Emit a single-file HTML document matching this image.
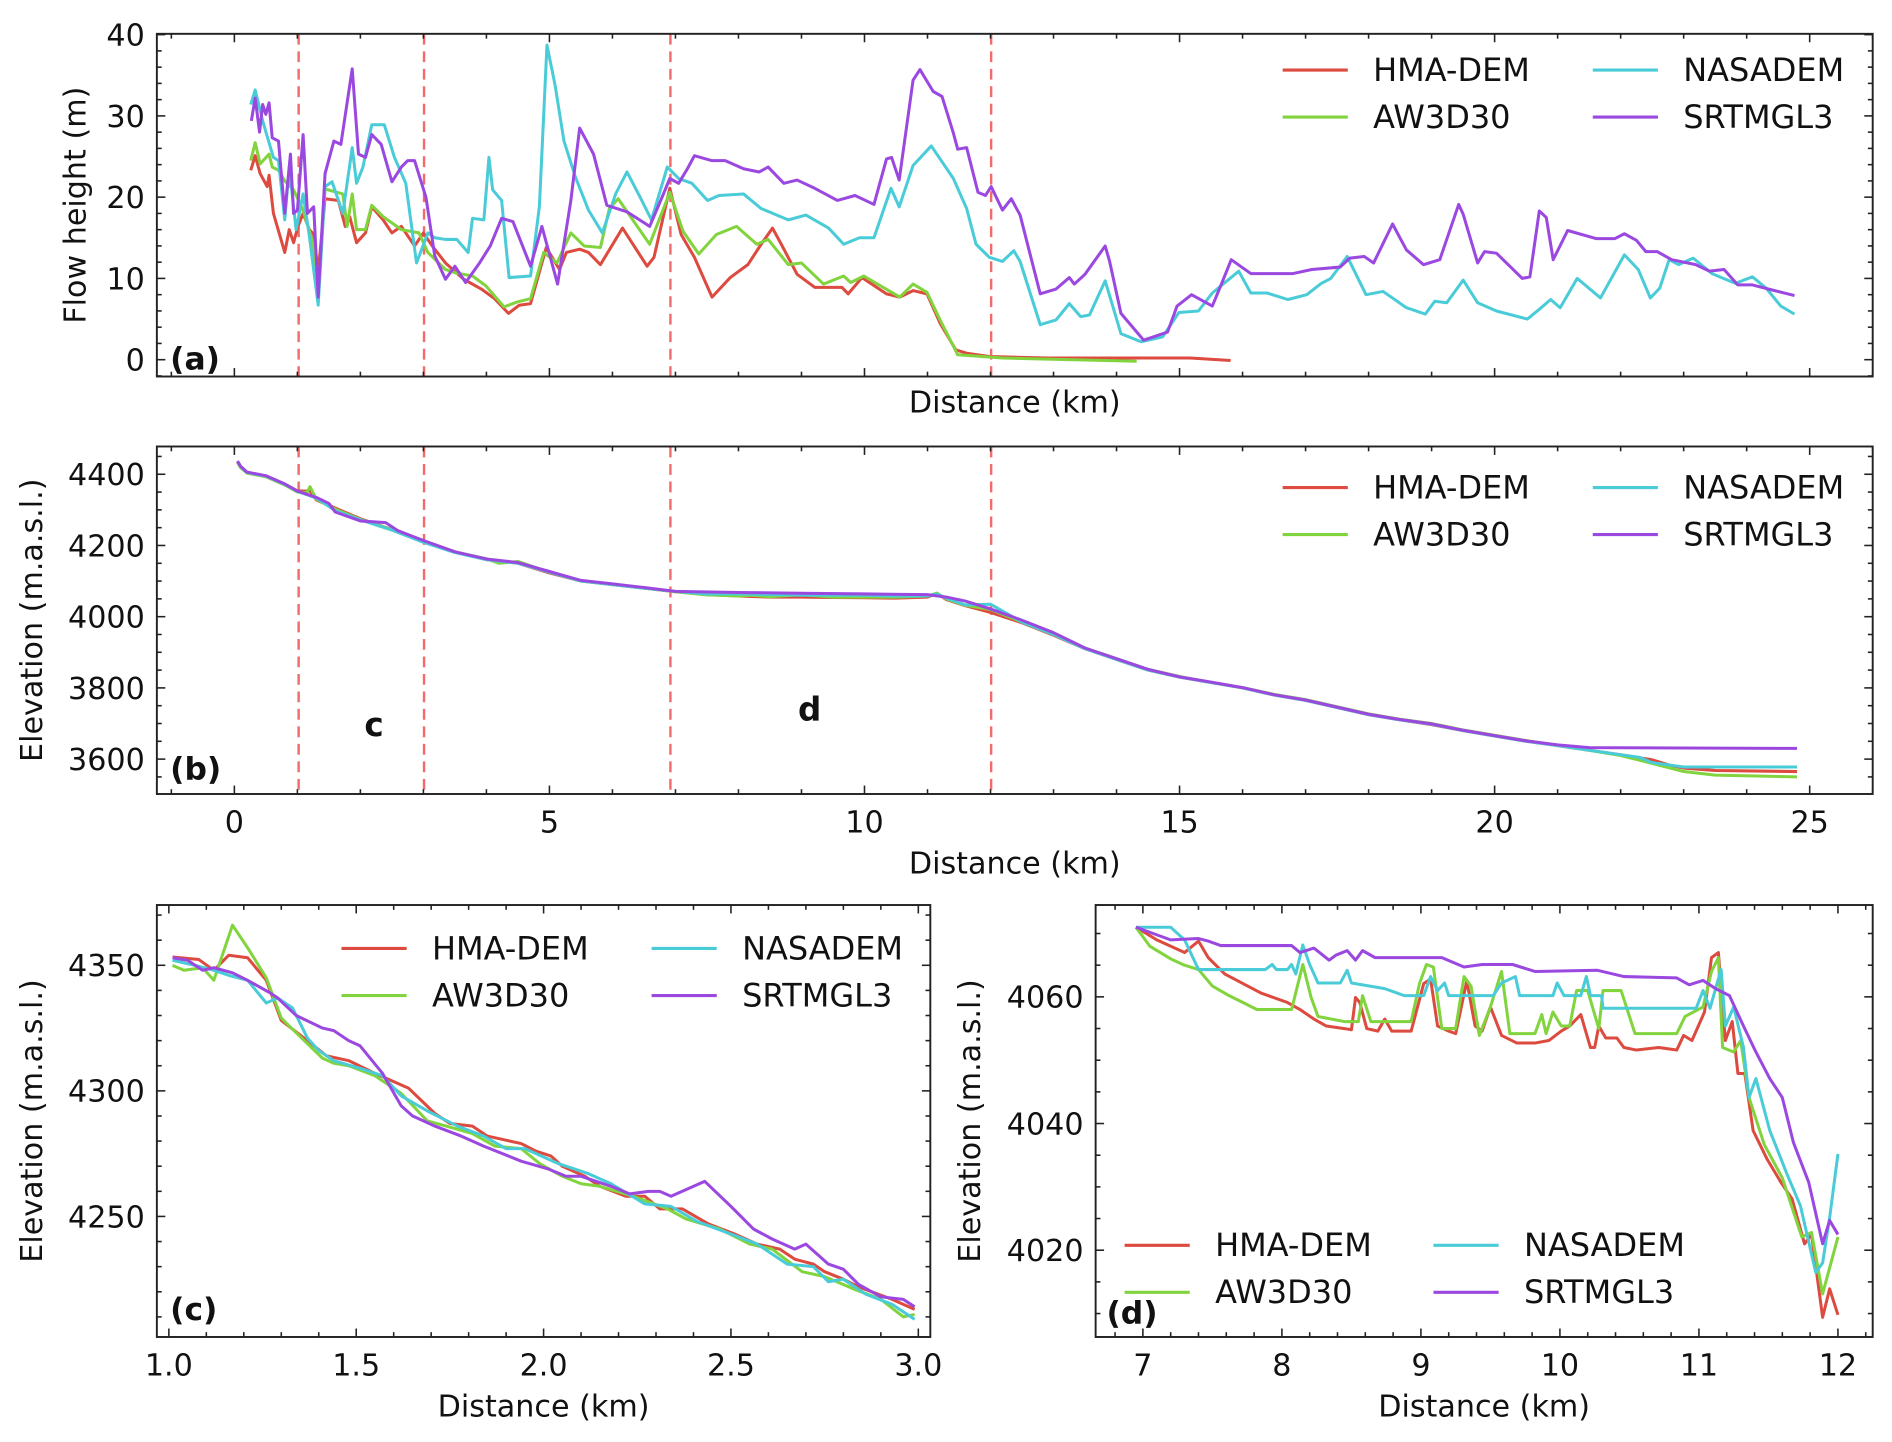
<!DOCTYPE html>
<html><head><meta charset="utf-8"><style>
html,body{margin:0;padding:0;background:#fff}
svg{display:block}
text{font-family:"DejaVu Sans","Liberation Sans",sans-serif;fill:#111}
</style></head><body>
<svg id="fig" width="1892" height="1442" viewBox="0 0 1568 1195" xmlns="http://www.w3.org/2000/svg"></svg>
<script>
// ===== Panel (a) flow height data [km, m] =====
const aHMA=[[0.26,23.3],[0.33,25.1],[0.41,22.9],[0.52,21.3],[0.55,22.7],[0.62,18],[0.8,13.2],[0.87,16],[0.94,14.4],[1.01,16.4],[1.09,18],[1.19,16],[1.26,15.4],[1.33,10.7],[1.44,19.8],[1.65,19.6],[1.76,16.4],[1.83,17.6],[1.94,14.4],[2.08,15.6],[2.18,18.8],[2.36,17.2],[2.5,15.6],[2.65,16.4],[2.86,14],[3.0,15.6],[3.14,14],[3.35,11.9],[3.64,9.9],[3.92,8.7],[4.13,7.5],[4.35,5.7],[4.52,6.7],[4.7,6.9],[4.95,13.8],[5.16,11.1],[5.27,13.2],[5.48,13.6],[5.62,13.2],[5.81,11.7],[6.16,16.2],[6.55,11.5],[6.66,12.6],[6.91,21.1],[7.09,15.4],[7.3,12.6],[7.58,7.7],[7.87,10.1],[8.15,11.7],[8.36,14.2],[8.54,16.2],[8.68,14.2],[8.93,10.5],[9.21,8.9],[9.64,8.9],[9.74,8.1],[9.96,10.1],[10.35,8.1],[10.56,7.7],[10.77,8.5],[10.99,8.1],[11.2,4.5],[11.45,1.2],[11.62,0.8],[11.98,0.4],[12.9,0.2],[14.32,0.2],[15.17,0.2],[15.81,-0.1]];
const aAW=[[0.26,24.5],[0.33,26.7],[0.41,24.1],[0.55,25.3],[0.6,23.7],[0.7,23.3],[0.8,22],[0.94,20.9],[1.09,18.4],[1.23,14.8],[1.33,8.3],[1.44,21],[1.72,20.4],[1.79,16.4],[1.87,20.4],[1.94,16],[2.08,16],[2.18,19],[2.36,17.6],[2.65,16],[2.93,15.6],[3.07,13.2],[3.35,11.1],[3.5,10.7],[3.78,10.3],[3.99,9.1],[4.28,6.5],[4.49,7.1],[4.7,7.5],[4.91,13.2],[5.12,11.9],[5.34,15.6],[5.55,14],[5.81,13.8],[5.95,18.6],[6.09,19.8],[6.59,14.2],[6.91,20.6],[7.12,15.8],[7.37,13],[7.65,15.4],[7.97,16.4],[8.29,14.2],[8.47,14.8],[8.79,11.7],[9,11.9],[9.35,9.3],[9.67,10.3],[9.78,9.5],[9.99,10.3],[10.56,7.7],[10.77,9.3],[10.99,8.3],[11.2,4.9],[11.48,0.6],[12.19,0.2],[14.32,-0.2]];
const aNAS=[[0.26,31.4],[0.33,33.2],[0.45,29.4],[0.52,27.5],[0.62,24.9],[0.7,24.5],[0.8,17.2],[0.87,23.7],[0.98,16],[1.09,20.4],[1.19,15.2],[1.33,6.7],[1.44,21.3],[1.55,21.9],[1.72,18],[1.87,26.1],[1.94,21.7],[2.04,23.7],[2.18,28.9],[2.38,28.9],[2.54,24.9],[2.72,21.7],[2.89,11.9],[3.07,15.6],[3.18,15],[3.35,14.8],[3.53,14.8],[3.71,13.2],[3.78,17.4],[3.96,17.2],[4.04,24.9],[4.1,20.9],[4.24,19.6],[4.36,10.1],[4.7,10.3],[4.84,18.8],[4.96,38.7],[5.09,33.8],[5.23,26.9],[5.41,22.5],[5.62,18.4],[5.84,15.6],[6.05,20.4],[6.23,23.1],[6.44,20],[6.62,17.2],[6.87,23.7],[7.05,22.3],[7.26,21.7],[7.51,19.6],[7.69,20.2],[8.08,20.4],[8.36,18.6],[8.79,17.2],[9.07,17.8],[9.43,16.2],[9.67,14.2],[9.92,15],[10.15,15],[10.42,21.1],[10.55,18.8],[10.77,23.9],[11.06,26.3],[11.41,22.3],[11.62,18.6],[11.77,14.2],[11.98,12.6],[12.19,12.1],[12.37,13.4],[12.47,12.1],[12.79,4.3],[13.04,4.9],[13.25,6.9],[13.43,5.3],[13.57,5.5],[13.82,9.7],[14.07,3.2],[14.39,2.2],[14.73,2.8],[14.99,5.8],[15.3,6],[15.52,8.2],[15.94,10.9],[16.13,8.2],[16.39,8.2],[16.72,7.4],[17.02,8],[17.25,9.4],[17.4,10],[17.66,12.7],[17.96,8],[18.23,8.4],[18.6,6.4],[18.9,5.6],[19.05,7.2],[19.24,7],[19.5,9.8],[19.73,7],[20.03,6],[20.52,5],[20.71,6.2],[20.89,7.4],[21.04,6.4],[21.31,10],[21.68,7.6],[22.06,12.9],[22.28,11.1],[22.47,7.6],[22.62,8.8],[22.77,12.3],[22.92,11.7],[23.15,12.5],[23.45,10.6],[23.82,9.4],[24.09,10.2],[24.31,8.8],[24.54,6.6],[24.76,5.6]];
const aSRT=[[0.27,29.4],[0.33,32.2],[0.4,28],[0.45,31.4],[0.5,30.2],[0.55,31.6],[0.6,27.3],[0.7,26.9],[0.8,18],[0.89,25.3],[0.94,18],[1.0,18.4],[1.09,27.7],[1.16,18],[1.26,18.8],[1.33,7.7],[1.44,22.9],[1.58,26.9],[1.69,26.5],[1.87,35.8],[1.97,25.3],[2.08,24.9],[2.18,27.7],[2.33,26.5],[2.5,21.9],[2.65,23.7],[2.75,24.5],[2.86,24.5],[2.96,22],[3.04,20],[3.18,12.8],[3.35,9.9],[3.5,11.5],[3.67,9.5],[3.89,11.9],[4.06,14],[4.24,17.4],[4.42,17],[4.7,11.5],[4.88,16.4],[5.13,9.3],[5.34,19.6],[5.48,28.5],[5.7,25.3],[5.91,19],[6.23,18.2],[6.59,16.4],[6.8,20.2],[6.91,22.3],[7.05,21.7],[7.19,23.5],[7.3,25.1],[7.58,24.5],[7.79,24.5],[8.08,23.5],[8.33,23.1],[8.47,23.7],[8.72,21.7],[8.93,22.1],[9.21,21.1],[9.57,19.6],[9.85,20.2],[10.15,19.1],[10.35,24.7],[10.43,24.9],[10.55,22.1],[10.77,34.4],[10.88,35.7],[11.09,33],[11.23,32.4],[11.41,27.9],[11.48,25.9],[11.62,26.1],[11.8,20.6],[11.92,20.2],[12.01,21.3],[12.19,18.4],[12.33,19.8],[12.47,17.8],[12.79,8.1],[13.04,8.7],[13.25,10.1],[13.33,9.3],[13.5,10.5],[13.82,14],[13.89,12.1],[14.07,5.7],[14.43,2.4],[14.81,3.4],[14.96,6.6],[15.19,8],[15.52,6.6],[15.67,9.4],[15.82,12.3],[16.13,10.6],[16.8,10.6],[17.1,11.1],[17.55,11.4],[17.7,12.5],[17.93,12.7],[18.08,11.9],[18.23,14.3],[18.38,16.7],[18.6,13.5],[18.87,11.7],[19.13,12.3],[19.43,19.1],[19.5,17.9],[19.73,11.9],[19.84,13.3],[20.03,13.1],[20.44,10],[20.56,10.2],[20.71,18.3],[20.82,17.5],[20.93,12.3],[21.16,15.9],[21.61,14.9],[21.91,14.9],[22.06,15.5],[22.25,14.7],[22.4,13.3],[22.58,13.3],[22.81,12.3],[23.19,11.7],[23.41,10.9],[23.64,11.1],[23.86,9.2],[24.09,9.2],[24.39,8.6],[24.76,7.9]];
// ===== Panel (b) elevation profile [km, m a.s.l.] =====
const bHMA=[[0.05,4435],[0.1,4420],[0.2,4405],[0.5,4395],[0.8,4372],[1,4353],[1.2,4353],[1.3,4328],[1.6,4305],[2,4275],[2.5,4245],[3,4213],[3.5,4182],[4,4160],[4.5,4150],[5,4123],[5.5,4100],[6,4090],[6.5,4080],[7,4070],[7.5,4062],[8,4058],[8.5,4055],[9,4055],[9.5,4054],[10,4053],[10.5,4052],[11,4055],[11.15,4066],[11.3,4048],[11.6,4031],[12,4012],[12.5,3983],[13,3948],[13.5,3910],[14,3880],[14.5,3850],[15,3830],[15.5,3815],[16,3800],[16.5,3780],[17,3765],[17.5,3745],[18,3725],[18.5,3710],[19,3697],[19.5,3680],[20,3665],[20.5,3650],[21,3638],[21.5,3625],[22,3612],[22.5,3598],[22.8,3582],[23,3575],[23.5,3568],[24.8,3565]];
const bAW=[[0.05,4433],[0.1,4418],[0.2,4403],[0.5,4393],[0.8,4370],[1,4350],[1.15,4349],[1.2,4365],[1.3,4330],[1.6,4302],[2,4273],[2.5,4245],[3,4211],[3.5,4182],[4,4163],[4.2,4150],[4.5,4155],[5,4125],[5.5,4100],[6,4090],[6.5,4080],[7,4070],[7.5,4061],[8,4058],[8.2,4060],[8.5,4056],[9,4062],[9.5,4055],[10,4055],[10.5,4055],[11,4058],[11.15,4066],[11.3,4050],[11.6,4032],[12,4020],[12.5,3985],[13,3950],[13.5,3912],[14,3882],[14.5,3852],[15,3832],[15.5,3815],[16,3801],[16.5,3782],[17,3767],[17.5,3747],[18,3727],[18.5,3712],[19,3700],[19.5,3682],[20,3667],[20.5,3652],[21,3638],[21.5,3625],[22,3610],[22.5,3588],[23,3565],[23.5,3555],[24.8,3550]];
const bNAS=[[0.05,4436],[0.1,4421],[0.2,4405],[0.5,4395],[0.8,4372],[1,4352],[1.3,4333],[1.6,4298],[2,4272],[2.5,4243],[3,4209],[3.5,4180],[4,4160],[4.5,4150],[5,4125],[5.5,4100],[6,4090],[6.5,4080],[7,4071],[7.5,4064],[8,4064],[8.5,4062],[9,4060],[9.5,4060],[10,4060],[10.5,4058],[11,4058],[11.15,4064],[11.3,4052],[11.6,4033],[12,4035],[12.5,3985],[13,3950],[13.5,3910],[14,3880],[14.5,3850],[15,3830],[15.5,3815],[16,3800],[16.5,3780],[17,3765],[17.5,3745],[18,3725],[18.5,3710],[19,3698],[19.5,3680],[20,3665],[20.5,3650],[21,3638],[21.5,3625],[22,3612],[22.3,3605],[22.5,3590],[23,3578],[24,3578],[24.8,3578]];
const bSRT=[[0.05,4437],[0.1,4422],[0.2,4406],[0.5,4396],[0.8,4373],[1,4353],[1.3,4335],[1.5,4318],[1.6,4294],[2,4269],[2.4,4264],[2.6,4241],[3,4214],[3.5,4182],[4,4162],[4.5,4152],[5,4127],[5.5,4102],[6,4092],[6.5,4082],[7,4071],[8,4068],[9,4066],[10,4064],[11,4062],[11.3,4055],[11.6,4044],[12,4022],[12.5,3990],[13,3955],[13.5,3912],[14,3882],[14.5,3852],[15,3831],[15.5,3816],[16,3801],[16.5,3781],[17,3766],[17.5,3746],[18,3726],[18.5,3711],[19,3699],[19.5,3681],[20,3666],[20.5,3651],[21,3640],[21.5,3632],[24.8,3630]];
// ===== Panel (c) zoom 1-3 km =====
const cHMA=[[1.01,4353.3],[1.08,4352.3],[1.12,4348],[1.16,4354],[1.21,4353],[1.26,4344],[1.3,4328],[1.37,4320],[1.42,4314],[1.48,4312],[1.55,4307],[1.64,4301],[1.71,4291],[1.75,4287],[1.81,4286],[1.85,4282],[1.94,4279],[1.98,4276],[2.02,4274],[2.05,4270],[2.11,4266],[2.15,4262],[2.22,4258],[2.27,4258],[2.31,4253],[2.37,4253],[2.44,4247],[2.51,4243],[2.57,4239],[2.63,4237],[2.67,4233],[2.72,4231],[2.75,4228],[2.8,4225],[2.84,4222],[2.93,4217],[2.99,4213]];
const cAW=[[1.01,4350],[1.04,4348],[1.09,4349],[1.12,4344],[1.17,4366],[1.21,4357],[1.26,4345],[1.3,4329],[1.32,4326],[1.41,4313],[1.44,4311],[1.48,4310],[1.55,4306],[1.62,4299],[1.69,4288],[1.74,4286],[1.81,4283],[1.87,4278],[1.94,4277],[1.99,4271],[2.05,4266],[2.1,4263],[2.15,4262],[2.24,4258],[2.33,4253],[2.38,4249],[2.47,4245],[2.55,4239],[2.61,4237],[2.69,4228],[2.75,4226],[2.83,4221],[2.9,4217],[2.96,4210],[2.99,4211]];
const cNAS=[[1.01,4352],[1.07,4350],[1.12,4348],[1.16,4346],[1.21,4344],[1.26,4335],[1.29,4337],[1.33,4333],[1.37,4321],[1.4,4316],[1.44,4312],[1.51,4309],[1.57,4306],[1.62,4298],[1.69,4292],[1.77,4286],[1.84,4282],[1.9,4277],[1.95,4277],[2.04,4271],[2.12,4267],[2.18,4263],[2.27,4255],[2.34,4254],[2.41,4248],[2.5,4243],[2.57,4239],[2.65,4231],[2.72,4230],[2.76,4224],[2.8,4225],[2.86,4219],[2.93,4215],[2.99,4209]];
const cSRT=[[1.01,4353],[1.05,4352],[1.09,4348],[1.12,4349],[1.17,4347],[1.21,4344],[1.27,4339],[1.29,4337],[1.34,4330],[1.41,4325],[1.44,4324],[1.48,4320],[1.51,4318],[1.57,4307],[1.62,4294],[1.65,4290],[1.71,4286],[1.78,4282],[1.84,4278],[1.94,4272],[2.01,4269],[2.06,4266],[2.1,4266],[2.18,4262],[2.23,4259],[2.28,4260],[2.31,4260],[2.34,4258],[2.43,4264],[2.5,4254],[2.56,4245],[2.61,4241],[2.67,4237],[2.7,4239],[2.76,4231],[2.8,4229],[2.84,4223],[2.9,4218],[2.96,4217],[2.99,4214]];
// ===== Panel (d) zoom 7-12 km =====
const dHMA=[[6.95,4071],[7.1,4069],[7.3,4067],[7.4,4068.8],[7.47,4066.2],[7.59,4063.6],[7.72,4062.1],[7.85,4060.6],[8.04,4059.1],[8.13,4058],[8.23,4056.5],[8.32,4055.4],[8.45,4055],[8.5,4054.8],[8.53,4059.9],[8.56,4059.1],[8.61,4055],[8.69,4054.6],[8.74,4056.5],[8.79,4054.6],[8.93,4054.6],[9.02,4062.1],[9.07,4062.8],[9.12,4055.4],[9.2,4054.6],[9.25,4054.2],[9.33,4062.5],[9.39,4055.4],[9.44,4054.6],[9.5,4058.4],[9.58,4053.9],[9.69,4052.7],[9.82,4052.7],[9.92,4053.1],[10.01,4054.6],[10.07,4055.4],[10.15,4057.2],[10.22,4052],[10.25,4052],[10.28,4055.4],[10.33,4053.5],[10.41,4053.5],[10.46,4052],[10.55,4051.6],[10.71,4052],[10.84,4051.6],[10.89,4053.9],[10.95,4053.1],[11.04,4057.6],[11.09,4066.2],[11.14,4067],[11.19,4053.1],[11.24,4056.1],[11.28,4047.9],[11.33,4047.9],[11.39,4038.9],[11.49,4034.4],[11.59,4030.7],[11.67,4028.1],[11.76,4021],[11.81,4022.5],[11.89,4009.4],[11.94,4013.9],[12,4009.8]];
const dAW=[[6.95,4071],[7.05,4068],[7.2,4066],[7.3,4065],[7.4,4064.3],[7.5,4061.7],[7.62,4060.2],[7.72,4059.1],[7.82,4058],[8.07,4058],[8.15,4065.1],[8.21,4059.9],[8.26,4056.9],[8.45,4056.1],[8.55,4056.1],[8.58,4060.2],[8.64,4056.1],[8.93,4056.1],[8.99,4062.1],[9.04,4065.1],[9.09,4064.7],[9.15,4055],[9.25,4055],[9.31,4063.2],[9.36,4061.7],[9.42,4053.9],[9.5,4058.4],[9.58,4064],[9.64,4054.2],[9.82,4054.2],[9.87,4057.2],[9.9,4054.2],[9.95,4057.6],[10.01,4055.4],[10.07,4055.4],[10.12,4061],[10.2,4061],[10.28,4055],[10.31,4061],[10.44,4061],[10.54,4054.2],[10.84,4054.2],[10.9,4056.9],[11.03,4058.4],[11.09,4064],[11.14,4066.2],[11.17,4052],[11.25,4051.3],[11.3,4053.1],[11.36,4044.1],[11.47,4036.7],[11.6,4031.4],[11.74,4022.1],[11.81,4022.8],[11.89,4013.1],[12,4022.1]];
const dNAS=[[6.95,4071],[7.2,4071],[7.3,4069],[7.4,4064.3],[7.88,4064.3],[7.93,4065.1],[7.96,4064.3],[8.04,4064.3],[8.07,4065.1],[8.1,4063.6],[8.15,4068.2],[8.2,4065.1],[8.26,4062.2],[8.42,4062.2],[8.47,4064.2],[8.5,4062.2],[8.74,4061.3],[8.88,4060.2],[9.02,4060.2],[9.07,4063.2],[9.12,4061],[9.17,4062.2],[9.2,4060.2],[9.52,4060.2],[9.58,4062.2],[9.68,4063.2],[9.71,4060.2],[9.95,4060.2],[9.98,4062.2],[10.03,4060.2],[10.15,4060.2],[10.19,4063.2],[10.22,4060.2],[10.3,4060.2],[10.31,4058.2],[10.98,4058.2],[11.03,4061],[11.08,4058.2],[11.13,4062.1],[11.16,4064.3],[11.19,4055.4],[11.25,4058.4],[11.32,4052],[11.36,4044.1],[11.41,4047.1],[11.51,4038.9],[11.63,4032.2],[11.73,4027],[11.84,4016.5],[11.89,4018],[11.94,4025.1],[12,4035.2]];
const dSRT=[[6.95,4071],[7.2,4069],[7.4,4069.2],[7.47,4068.8],[7.56,4068.1],[8.07,4068.1],[8.13,4067],[8.23,4067.7],[8.34,4065.8],[8.39,4066.6],[8.47,4067.3],[8.53,4065.8],[8.58,4067.3],[8.67,4066.2],[9.15,4066.2],[9.31,4064.7],[9.44,4065.1],[9.66,4065.1],[9.82,4064],[10.27,4064.2],[10.46,4063.2],[10.84,4063],[10.93,4061.9],[11.03,4062.6],[11.12,4061.3],[11.22,4060.2],[11.32,4055.4],[11.41,4051.3],[11.51,4047.1],[11.6,4044.1],[11.68,4037],[11.79,4030.7],[11.89,4021],[11.94,4024.7],[12,4022.5]];
const seriesNames=["HMA-DEM","AW3D30","NASADEM","SRTMGL3"];
const seriesColors=["#dd4a3f","#82d43e","#4accd8","#9b48e0"];
const dashedKm=[1.02,3.01,6.92,12.01];
const abXTicks=[0,5,10,15,20,25];
const aYTicks=[0,10,20,30,40];
const bYTicks=[3600,3800,4000,4200,4400];
const cXTicks=[1.0,1.5,2.0,2.5,3.0];
const cYTicks=[4250,4300,4350];
const dXTicks=[7,8,9,10,11,12];
const dYTicks=[4020,4040,4060];

const NS="http://www.w3.org/2000/svg";
const svg=document.getElementById("fig");
function mk(tag,attrs,parent){const e=document.createElementNS(NS,tag);for(const k in attrs)e.setAttribute(k,attrs[k]);(parent||svg).appendChild(e);return e;}

function panel(p){
  const g=mk("g",{});
  
  
  const sx=v=>p.L+(v-p.x0)/(p.x1-p.x0)*(p.R-p.L);
  const sy=v=>p.B-(v-p.y0)/(p.y1-p.y0)*(p.B-p.T);
  const clip="clip-"+p.id;
  const cp=mk("clipPath",{id:clip},g);mk("rect",{x:p.L,y:p.T,width:p.R-p.L,height:p.B-p.T},cp);
  if(p.dashed){dashedKm.forEach(v=>{const l=mk("line",{x1:sx(v),x2:sx(v),y1:p.T,y2:p.B,stroke:"#f25a5a","stroke-width":2,"stroke-dasharray":"9,5.5",opacity:0.9},g);
    
    });}
  const lines=mk("g",{"clip-path":"url(#"+clip+")"},g);
  p.series.forEach((s,i)=>{
    const d=s.map((pt,j)=>(j?"L":"M")+sx(pt[0]).toFixed(1)+","+sy(pt[1]).toFixed(1)).join("");
    const path=mk("path",{d:d,fill:"none",stroke:seriesColors[i],"stroke-width":2.5,"stroke-linejoin":"round"},lines);
    
    
  });
  const fr=mk("rect",{x:p.L,y:p.T,width:p.R-p.L,height:p.B-p.T,fill:"none",stroke:"#222","stroke-width":1.6},g);
  
  
  const tk=(x1,y1,x2,y2)=>mk("line",{x1,y1,x2,y2,stroke:"#222","stroke-width":1.3},g);
  const mjX=p.xMajor, mnX=p.xMinor, mjY=p.yMajor, mnY=p.yMinor;
  for(let v=Math.ceil(p.x0/mnX)*mnX;v<=p.x1+1e-9;v+=mnX){const x=sx(v);const maj=Math.abs(v/mjX-Math.round(v/mjX))<1e-6;const len=maj?7:4;tk(x,p.B,x,p.B-len);tk(x,p.T,x,p.T+len);}
  for(let v=Math.ceil(p.y0/mnY)*mnY;v<=p.y1+1e-9;v+=mnY){const y=sy(v);const maj=Math.abs(v/mjY-Math.round(v/mjY))<1e-6;const len=maj?7:4;tk(p.L,y,p.L+len,y);tk(p.R,y,p.R-len,y);}
  if(p.xTicks){p.xTicks.forEach(v=>{const t=mk("text",{x:sx(v),y:p.B+32,"text-anchor":"middle","font-size":25},g);t.textContent=p.xFmt?p.xFmt(v):String(v);
    
    });}
  p.yTicks.forEach(v=>{const t=mk("text",{x:p.L-10,y:sy(v)+9,"text-anchor":"end","font-size":25},g);t.textContent=String(v);
    
    });
  const xt=mk("text",{x:(p.L+p.R)/2,y:p.xTitleY,"text-anchor":"middle","font-size":25},g);xt.textContent="Distance (km)";
  
  
  const yt=mk("text",{x:0,y:0,"text-anchor":"middle","font-size":25,transform:"translate("+p.yTitleX+","+((p.T+p.B)/2)+") rotate(-90)"},g);yt.textContent=p.yTitle;
  
  
  const pl=mk("text",{x:p.labX,y:p.labY,"font-size":26,"font-weight":"bold"},g);pl.textContent=p.label;
  
  
  const lg=mk("g",{},g);
  
  
  seriesNames.forEach((n,i)=>{
    const col=i<2?0:1,row=i%2;
    const lx=p.leg[0]+col*p.leg[3], ly=p.leg[1]+row*39;
    const e=mk("g",{},lg);
    
    
    mk("line",{x1:lx,x2:lx+54,y1:ly,y2:ly,stroke:seriesColors[i],"stroke-width":2.6},e);
    const t=mk("text",{x:lx+p.leg[2],y:ly+9,"font-size":26.5},e);t.textContent=n;
  });
}

panel({id:"a",name:"panel-a-flow-height",L:130,R:1552,T:28,B:312,x0:-1.23,x1:26.0,y0:-2.07,y1:40.1,
  series:[aHMA,aAW,aNAS,aSRT],dashed:true,xMajor:5,xMinor:1,yMajor:10,yMinor:2,xTicks:null,yTicks:aYTicks,
  xTitleY:342,yTitle:"Flow height (m)",yTitleX:71,label:"(a)",labX:141,labY:306,leg:[1063,58,75,257]});
panel({id:"b",name:"panel-b-elevation",L:130,R:1552,T:370,B:658,x0:-1.23,x1:26.0,y0:3502,y1:4478,
  series:[bHMA,bAW,bNAS,bSRT],dashed:true,xMajor:5,xMinor:1,yMajor:200,yMinor:50,xTicks:abXTicks,yTicks:bYTicks,
  xTitleY:724,yTitle:"Elevation (m.a.s.l.)",yTitleX:35,label:"(b)",labX:141,labY:646,leg:[1063,404,75,257]});
panel({id:"c",name:"panel-c-elevation-1-3km",L:130,R:771,T:750,B:1108,x0:0.968,x1:3.032,y0:4202,y1:4374,
  series:[cHMA,cAW,cNAS,cSRT],dashed:false,xMajor:0.5,xMinor:0.1,yMajor:50,yMinor:10,xTicks:cXTicks,xFmt:v=>v.toFixed(1),yTicks:cYTicks,
  xTitleY:1174,yTitle:"Elevation (m.a.s.l.)",yTitleX:35,label:"(c)",labX:141,labY:1094,leg:[283,786,75,257]});
panel({id:"d",name:"panel-d-elevation-7-12km",L:908,R:1552,T:750,B:1108,x0:6.66,x1:12.25,y0:4006.3,y1:4074.5,
  series:[dHMA,dAW,dNAS,dSRT],dashed:false,xMajor:1,xMinor:0.2,yMajor:20,yMinor:5,xTicks:dXTicks,yTicks:dYTicks,
  xTitleY:1174,yTitle:"Elevation (m.a.s.l.)",yTitleX:812,label:"(d)",labX:917,labY:1097,leg:[932,1032,75,256]});

[["c",310,610],["d",671,597]].forEach(a=>{const t=mk("text",{x:a[1],y:a[2],"font-size":27,"font-weight":"bold","text-anchor":"middle"});t.textContent=a[0];
  
  });
</script>
</body></html>
